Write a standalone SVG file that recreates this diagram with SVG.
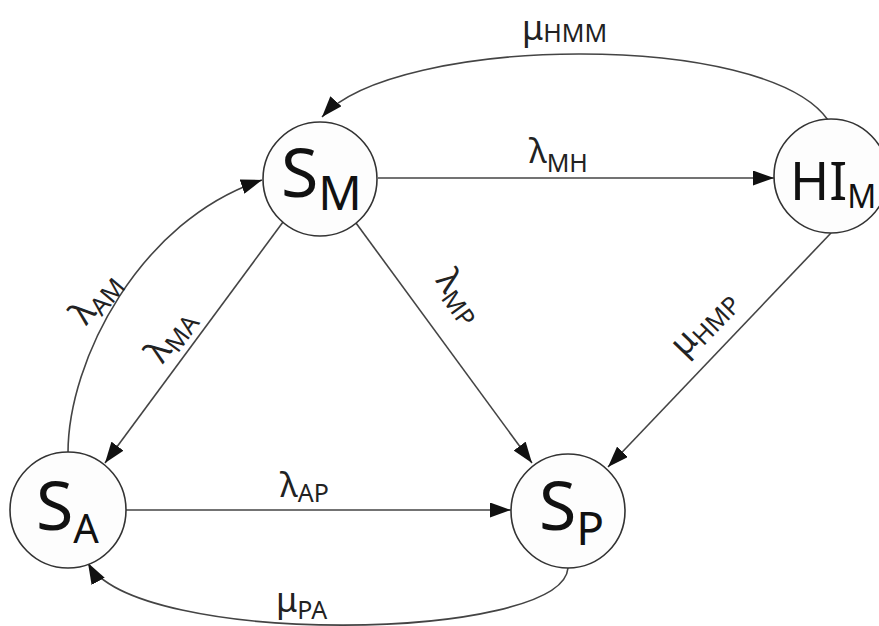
<svg xmlns="http://www.w3.org/2000/svg" width="879" height="626" viewBox="0 0 879 626">
<defs>
<marker id="arr" markerUnits="userSpaceOnUse" markerWidth="21" markerHeight="15" refX="21" refY="7.5" orient="auto">
<path d="M0,0 L21,7.5 L0,15 z" fill="#111"/>
</marker>
<style>
.node circle{fill:#fdfdfd;stroke:#333;stroke-width:1.6}
.big{font-family:"Noto Sans","Open Sans",sans-serif;fill:#111}
.edge{fill:none;stroke:#444;stroke-width:1.6;marker-end:url(#arr)}
.lbl{font-family:"Noto Sans","Open Sans",sans-serif;fill:#222;font-size:34px}
.sub{font-size:25px}
</style>
</defs>
<rect width="879" height="626" fill="#fff"/>
<g id="connectors">
<path class="edge" d="M378,178 L774,178"/>
<path class="edge" d="M126,510 L511,510"/>
<path class="edge" d="M283,222 L105,463"/>
<path class="edge" d="M356,223 L532,463"/>
<path class="edge" d="M831,233 L608,467"/>
<path class="edge" d="M828,120 C765,30 395,35 322,117"/>
<path class="edge" d="M68,453 C68,360 140,220 262,180"/>
<path class="edge" d="M568,568 C562,642 135,648 88,563"/>
<text class="lbl" x="522" y="40">μ<tspan class="sub" dy="2">HMM</tspan></text>
<text class="lbl" x="529" y="163">λ<tspan class="sub" dy="9">MH</tspan></text>
<text class="lbl" x="280" y="497">λ<tspan class="sub" dy="5">AP</tspan></text>
<text class="lbl" x="276" y="612">μ<tspan class="sub" dy="7">PA</tspan></text>
<text class="lbl" text-anchor="middle" transform="translate(104,305) rotate(-50)">λ<tspan class="sub" dy="6">AM</tspan></text>
<text class="lbl" text-anchor="middle" transform="translate(179,342) rotate(-54)">λ<tspan class="sub" dy="6">MA</tspan></text>
<text class="lbl" text-anchor="middle" transform="translate(451,303) rotate(54)">λ<tspan class="sub" dy="6">MP</tspan></text>
<text class="lbl" text-anchor="middle" transform="translate(711,330) rotate(-46)">μ<tspan class="sub" dy="6">HMP</tspan></text>
</g>
<g id="node-SM" class="node">
<circle cx="320" cy="179" r="57"/>
<text class="big" x="281" y="197" font-size="68">S<tspan font-size="48" dy="13">M</tspan></text>
</g>
<g id="node-HIM" class="node">
<circle cx="831" cy="176" r="57"/>
<text class="big" x="790" y="200" font-size="53">HI<tspan font-size="32" dy="8">M</tspan></text>
</g>
<g id="node-SA" class="node">
<circle cx="68" cy="510" r="58"/>
<text class="big" x="36" y="530" font-size="68">S<tspan font-size="40" dy="13">A</tspan></text>
</g>
<g id="node-SP" class="node">
<circle cx="568" cy="511" r="57"/>
<text class="big" x="539" y="530" font-size="68">S<tspan font-size="46" dy="15">P</tspan></text>
</g>
</svg>
